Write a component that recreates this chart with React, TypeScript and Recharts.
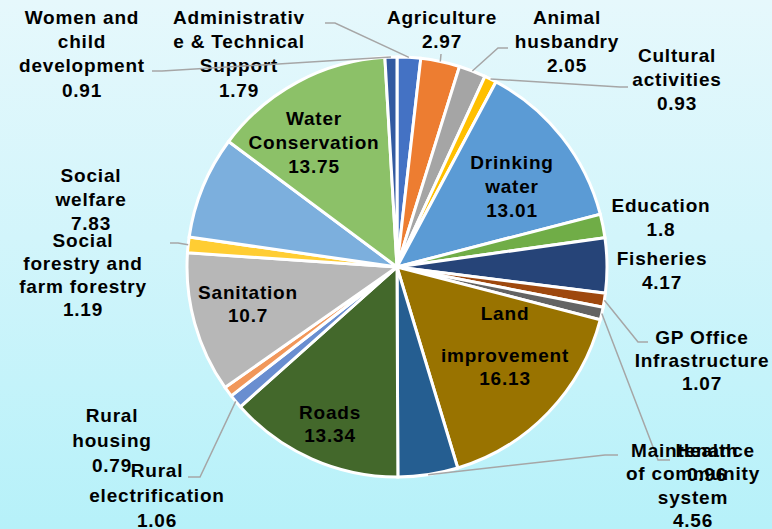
import React from "react";
import { PieChart, Pie, Cell } from "recharts";

// categories and values (clockwise from 12 o'clock)
const categories = [
  "Administrative & Technical Support",
  "Agriculture",
  "Animal husbandry",
  "Cultural activities",
  "Drinking water",
  "Education",
  "Fisheries",
  "GP Office Infrastructure",
  "Health",
  "Land improvement",
  "Maintenance of community system",
  "Roads",
  "Rural electrification",
  "Rural housing",
  "Sanitation",
  "Social forestry and farm forestry",
  "Social welfare",
  "Water Conservation",
  "Women and child development",
];

const values = [
  1.79, 2.97, 2.05, 0.93, 13.01, 1.8, 4.17, 1.07, 0.96, 16.13, 4.56, 13.34,
  1.06, 0.79, 10.7, 1.19, 7.83, 13.75, 0.91,
];

// how each category name wraps in the label
const labelText = [
  ["Administrativ", "e & Technical", "Support"],
  ["Agriculture"],
  ["Animal", "husbandry"],
  ["Cultural", "activities"],
  ["Drinking", "water"],
  ["Education"],
  ["Fisheries"],
  ["GP Office", "Infrastructure"],
  ["Health"],
  ["Land", "improvement"],
  ["Maintenance", "of community", "system"],
  ["Roads"],
  ["Rural", "electrification"],
  ["Rural", "housing"],
  ["Sanitation"],
  ["Social", "forestry and", "farm forestry"],
  ["Social", "welfare"],
  ["Water", "Conservation"],
  ["Women and", "child", "development"],
];

const colors = [
  "#4472C4", "#ED7D31", "#A5A5A5", "#FFC000", "#5B9BD5", "#70AD47",
  "#264478", "#9E480E", "#636363", "#997300", "#255E91", "#43682B",
  "#698ED0", "#F1975A", "#B7B7B7", "#FFCD33", "#7CAFDD", "#8CC168",
  "#335AA1",
];

// label placement: centre x, first line y, optional leader elbow points
type LabelPos = { x: number; y: number; lh?: number; firstGap?: number; leader?: number[][] };
const labelPos: LabelPos[] = [
  { x: 239, y: 17, leader: [[335, 23], [325, 23]] },
  { x: 442, y: 17, leader: [[441, 54]] },
  { x: 567, y: 17, leader: [[498, 48], [508, 48]] },
  { x: 677, y: 55, leader: [[620, 87], [628, 87]] },
  { x: 512, y: 162 },
  { x: 661, y: 205 },
  { x: 662, y: 258 },
  { x: 702, y: 337, lh: 23, leader: [[638, 342], [648, 342]] },
  { x: 707, y: 450, leader: [[658, 460], [670, 460]] },
  { x: 505, y: 313, lh: 23, firstGap: 42 },
  { x: 693, y: 450, lh: 23.5, leader: [[605, 455], [618, 455]] },
  { x: 330, y: 412, lh: 23 },
  { x: 157, y: 470, lh: 25, leader: [[200, 477], [188, 477]] },
  { x: 112, y: 415, lh: 25 },
  { x: 248, y: 292, lh: 23 },
  { x: 83, y: 240, lh: 23, leader: [[178, 243], [170, 243]] },
  { x: 91, y: 175, lh: 24 },
  { x: 314, y: 118, lh: 24 },
  { x: 82, y: 17, lh: 24.4, leader: [[162, 71], [152, 71]] },
];

const data = categories.map((name, i) => ({ name, value: values[i] }));

const RAD = Math.PI / 180;

const renderLabel = (props: any) => {
  const { cx, cy, midAngle, outerRadius, index } = props;
  const pos = labelPos[index];
  const lines = [...labelText[index], String(values[index])];
  const lh = pos.lh ?? 24.4;
  const ex = cx + outerRadius * Math.cos(-midAngle * RAD);
  const ey = cy + outerRadius * Math.sin(-midAngle * RAD);
  let yy = pos.y;
  return (
    <g key={`lbl-${index}`}>
      {pos.leader && (
        <polyline
          points={[[ex, ey], ...pos.leader].map((p) => p.join(",")).join(" ")}
          fill="none"
          stroke="#A6A6A6"
          strokeWidth={1.5}
        />
      )}
      {lines.map((t, i) => {
        if (i > 0) yy += i === 1 && pos.firstGap ? pos.firstGap : lh;
        return (
          <text
            key={i}
            x={pos.x}
            y={yy}
            textAnchor="middle"
            dominantBaseline="central"
            fill="#000"
            fontFamily="'Liberation Sans', Arial, sans-serif"
            fontWeight="bold"
            fontSize={19}
            letterSpacing={0.8}
          >
            {t}
          </text>
        );
      })}
    </g>
  );
};

export default function App() {
  return (
    <div
      style={{
        position: "fixed",
        left: 0,
        top: 0,
        width: 772,
        height: 529,
        background: "linear-gradient(180deg, #E6F8FC 0%, #D2F5FB 45%, #B6F1F9 100%)",
      }}
    >
      <PieChart width={772} height={529} margin={{ top: 0, right: 0, bottom: 0, left: 0 }}>
        <Pie
          data={data}
          dataKey="value"
          nameKey="name"
          cx={397}
          cy={267}
          outerRadius={210}
          startAngle={90}
          endAngle={-270}
          stroke="#fff"
          strokeWidth={3}
          label={renderLabel}
          labelLine={false}
          isAnimationActive={false}
        >
          {data.map((d, i) => (
            <Cell key={d.name} fill={colors[i]} />
          ))}
        </Pie>
      </PieChart>
    </div>
  );
}
